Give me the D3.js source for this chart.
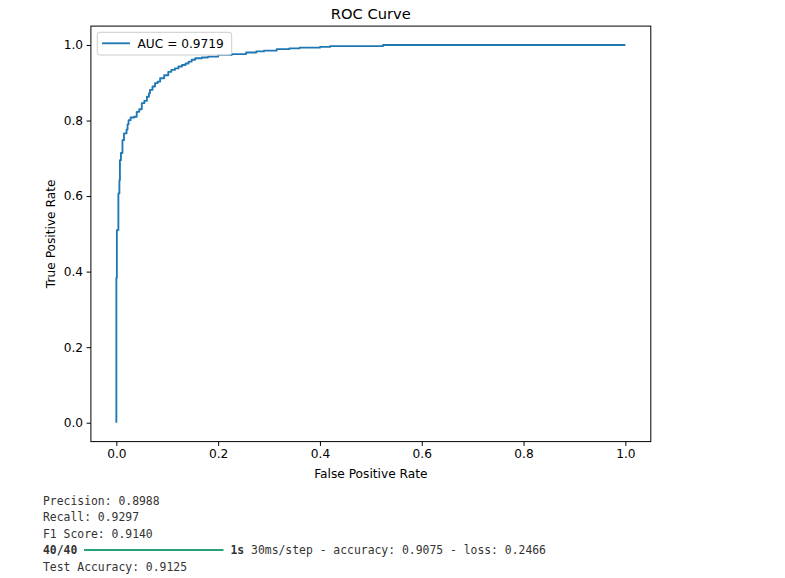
<!DOCTYPE html>
<html><head><meta charset="utf-8">
<script src="https://cdn.jsdelivr.net/npm/d3@7"></script>
<style>
html,body{margin:0;padding:0;background:#fff;}
svg{display:block;}
</style></head>
<body>
<svg id="chart" width="785" height="578"></svg>
<script>
// ROC curve points (upper-left corners of each step)
const fpr = [0, 0, 0.001, 0.004, 0.006, 0.007, 0.009, 0.012, 0.015, 0.02, 0.022, 0.024, 0.028, 0.035, 0.04, 0.045, 0.05, 0.055, 0.06, 0.064, 0.066, 0.071, 0.076, 0.081, 0.086, 0.094, 0.102, 0.108, 0.115, 0.122, 0.129, 0.136, 0.142, 0.148, 0.155, 0.168, 0.18, 0.2, 0.227, 0.255, 0.275, 0.29, 0.315, 0.34, 0.36, 0.40, 0.42, 0.524, 1.0];
const tpr = [0, 0.383, 0.51, 0.607, 0.642, 0.695, 0.714, 0.748, 0.766, 0.776, 0.79, 0.801, 0.808, 0.81, 0.823, 0.83, 0.846, 0.852, 0.863, 0.872, 0.881, 0.89, 0.899, 0.903, 0.912, 0.92, 0.929, 0.934, 0.938, 0.943, 0.947, 0.951, 0.956, 0.961, 0.965, 0.967, 0.969, 0.974, 0.976, 0.98, 0.983, 0.985, 0.989, 0.991, 0.993, 0.995, 0.997, 1.0, 1.0];
const xTicks = [0.0, 0.2, 0.4, 0.6, 0.8, 1.0];
const yTicks = [0.0, 0.2, 0.4, 0.6, 0.8, 1.0];
const titleText = "ROC Curve";
const xLabel = "False Positive Rate";
const yLabel = "True Positive Rate";
const legendText = "AUC = 0.9719";
const outputLines = [
  "Precision: 0.8988",
  "Recall: 0.9297",
  "F1 Score: 0.9140"
];
const progressLabel = "40/40";
const progressTime = "1s";
const progressRest = " 30ms/step - accuracy: 0.9075 - loss: 0.2466";
const finalLine = "Test Accuracy: 0.9125";

const svg = d3.select("#chart");
const L = 90.9, R = 650.8, T = 26.1, B = 441.6;
const x = d3.scaleLinear().domain([-0.05, 1.05]).range([L, R]);
const y = d3.scaleLinear().domain([-0.05, 1.05]).range([B, T]);
const font = "'DejaVu Sans', sans-serif";

// curve
const pts = fpr.map((f, i) => [f, tpr[i]]);
svg.append("path")
  .datum(pts)
  .attr("fill", "none")
  .attr("stroke", "#1f77b4")
  .attr("stroke-width", 1.85)
  .attr("stroke-linejoin", "round")
  .attr("d", d3.line().x(d => x(d[0])).y(d => y(d[1])).curve(d3.curveStepAfter));

// axes
const fmt = d3.format(".1f");
const xAxis = svg.append("g").attr("transform", `translate(0,${B})`)
  .call(d3.axisBottom(x).tickValues(xTicks).tickFormat(fmt).tickSize(4.3).tickPadding(3.5));
const yAxis = svg.append("g").attr("transform", `translate(${L},0)`)
  .call(d3.axisLeft(y).tickValues(yTicks).tickFormat(fmt).tickSize(4.3).tickPadding(3.5));
[xAxis, yAxis].forEach(g => {
  g.select(".domain").remove();
  g.selectAll("line").attr("stroke", "#000").attr("stroke-width", 1);
  g.selectAll("text").attr("font-family", font).attr("font-size", 12.2).attr("fill", "#000");
});

// frame
svg.append("rect").attr("x", L).attr("y", T).attr("width", R - L).attr("height", B - T)
  .attr("fill", "none").attr("stroke", "#000").attr("stroke-width", 1);

// title and labels
svg.append("text").attr("x", (L + R) / 2).attr("y", 18.6).attr("text-anchor", "middle")
  .attr("font-family", font).attr("font-size", 14.7).attr("fill", "#000").text(titleText);
svg.append("text").attr("x", (L + R) / 2).attr("y", 477.5).attr("text-anchor", "middle")
  .attr("font-family", font).attr("font-size", 12.2).attr("fill", "#000").text(xLabel);
svg.append("text").attr("transform", `translate(54.5,${(T + B) / 2}) rotate(-90)`).attr("text-anchor", "middle")
  .attr("font-family", font).attr("font-size", 12.2).attr("fill", "#000").text(yLabel);

// legend
svg.append("rect").attr("x", 97.3).attr("y", 32.3).attr("width", 134.4).attr("height", 22.7)
  .attr("rx", 2.5).attr("fill", "#fff").attr("fill-opacity", 0.8)
  .attr("stroke", "#cccccc").attr("stroke-width", 1);
svg.append("line").attr("x1", 102).attr("x2", 130).attr("y1", 43.3).attr("y2", 43.3)
  .attr("stroke", "#1f77b4").attr("stroke-width", 1.85);
svg.append("text").attr("x", 137.5).attr("y", 47.6)
  .attr("font-family", font).attr("font-size", 12.2).attr("fill", "#000").text(legendText);

// console output
const mono = "'DejaVu Sans Mono', 'Liberation Mono', monospace";
const tx = 43, base0 = 504.5, lh = 16.5;
const tcol = "#333333";
outputLines.forEach((s, i) => {
  svg.append("text").attr("x", tx).attr("y", base0 + i * lh)
    .attr("font-family", mono).attr("font-size", 11.4).attr("fill", tcol)
    .attr("xml:space", "preserve").text(s);
});
const py = base0 + 3 * lh;
svg.append("text").attr("x", tx).attr("y", py).attr("font-family", mono).attr("font-size", 11.4)
  .attr("font-weight", "bold").attr("fill", tcol).text(progressLabel);
svg.append("line").attr("x1", 84).attr("x2", 223.5).attr("y1", py - 4).attr("y2", py - 4)
  .attr("stroke", "#26a17b").attr("stroke-width", 2);
const t2 = svg.append("text").attr("x", 230.5).attr("y", py).attr("font-family", mono)
  .attr("font-size", 11.4).attr("fill", tcol).attr("xml:space", "preserve");
t2.append("tspan").attr("font-weight", "bold").text(progressTime);
t2.append("tspan").text(progressRest);
svg.append("text").attr("x", tx).attr("y", base0 + 4 * lh).attr("font-family", mono)
  .attr("font-size", 11.4).attr("fill", tcol).text(finalLine);
</script>
</body></html>
